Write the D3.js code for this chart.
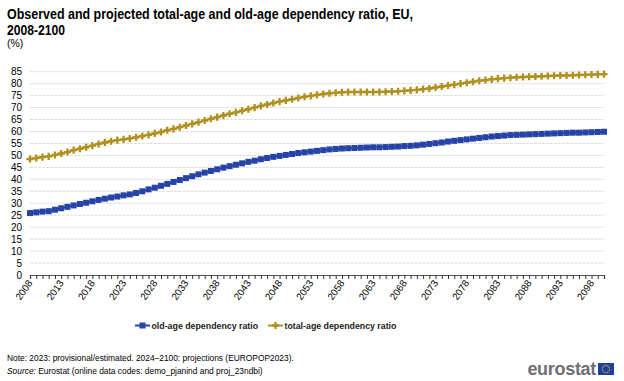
<!DOCTYPE html>
<html><head><meta charset="utf-8">
<script src="https://cdn.jsdelivr.net/npm/d3@7"></script>
<style>
html,body{margin:0;padding:0;background:#fff;}
svg{display:block;font-family:"Liberation Sans",Arial,sans-serif;}
</style></head>
<body>
<script>
const years = d3.range(2008, 2101);
const oldAge = [25.9,26.2,26.5,26.7,27.3,27.9,28.5,29.1,29.7,30.2,30.8,31.4,31.9,32.4,32.8,33.3,33.7,34.3,35.0,35.8,36.5,37.3,38.1,38.9,39.7,40.5,41.3,42.1,42.8,43.5,44.2,44.9,45.5,46.1,46.7,47.3,47.8,48.4,48.9,49.4,49.8,50.2,50.6,51.0,51.3,51.6,51.9,52.2,52.5,52.7,52.9,53.0,53.1,53.2,53.3,53.4,53.4,53.5,53.6,53.7,53.9,54.0,54.2,54.5,54.8,55.1,55.4,55.8,56.1,56.4,56.7,57.0,57.3,57.6,57.9,58.1,58.3,58.5,58.6,58.7,58.8,58.9,59.0,59.1,59.2,59.3,59.4,59.5,59.5,59.6,59.7,59.8,59.9];
const totalAge = [48.5,48.9,49.3,49.6,50.2,50.8,51.4,52.2,52.8,53.4,54.1,54.8,55.4,55.9,56.4,56.7,57.1,57.6,58.1,58.6,59.2,59.8,60.5,61.1,61.8,62.5,63.2,63.9,64.6,65.3,66.0,66.7,67.4,68.0,68.7,69.3,70.0,70.7,71.3,71.9,72.5,73.0,73.5,74.0,74.5,74.9,75.3,75.7,76.0,76.2,76.4,76.5,76.5,76.5,76.5,76.5,76.5,76.6,76.7,76.8,77.0,77.2,77.4,77.7,78.0,78.4,78.8,79.2,79.6,80.0,80.4,80.8,81.2,81.5,81.8,82.1,82.3,82.5,82.7,82.8,82.9,83.0,83.1,83.2,83.3,83.4,83.4,83.5,83.6,83.7,83.8,83.9,84.0];
const yTicks = d3.range(0, 90, 5);
const xLabelYears = d3.range(2008, 2100, 5);
const seriesNames = ["old-age dependency ratio", "total-age dependency ratio"];
const colors = ["#2644A7", "#B09120"];

const W = 624, H = 381;
const svg = d3.select("body").append("svg").attr("width", W).attr("height", H);

// Title
const title = svg.append("text").attr("font-weight", "bold").attr("font-size", 14).attr("fill", "#000");
title.append("tspan").attr("x", 7).attr("y", 19).attr("textLength", 406).attr("lengthAdjust", "spacingAndGlyphs")
  .text("Observed and projected total-age and old-age dependency ratio, EU,");
title.append("tspan").attr("x", 7).attr("y", 35).attr("textLength", 58).attr("lengthAdjust", "spacingAndGlyphs").text("2008-2100");
svg.append("text").attr("x", 7).attr("y", 47).attr("font-size", 10.5).attr("fill", "#000").text("(%)");

const x = d3.scaleLinear().domain([2008, 2100]).range([30, 604]);
const y = d3.scaleLinear().domain([0, 85]).range([275, 71.7]);

// Grid
svg.append("g").selectAll("line").data(yTicks.filter(d => d > 0)).join("line")
  .attr("x1", 30).attr("x2", 604)
  .attr("y1", d => y(d)).attr("y2", d => y(d))
  .attr("stroke", "#dcdcdc").attr("stroke-width", 1).attr("stroke-dasharray", "3,1");

// Y axis labels
svg.append("g").selectAll("text").data(yTicks).join("text")
  .attr("x", 22).attr("y", d => y(d) + 3.5).attr("text-anchor", "end")
  .attr("font-size", 10).attr("fill", "#000").text(d => d);

// X axis
const xAxis = d3.axisBottom(x).tickValues(years).tickSize(4).tickFormat("");
const gx = svg.append("g").attr("transform", "translate(0,275)").call(xAxis);
gx.select(".domain").attr("stroke", "#555").attr("stroke-width", 1.2);
gx.selectAll(".tick line").attr("stroke", "#333");
svg.append("g").selectAll("text").data(xLabelYears).join("text")
  .attr("transform", d => `translate(${x(d) + 3},${283}) rotate(-55)`)
  .attr("text-anchor", "end").attr("font-size", 9.8).attr("fill", "#000").text(d => d);

// Lines
const series = [oldAge, totalAge];
const line = d3.line().x((d, i) => x(years[i])).y(d => y(d));
series.forEach((s, k) => {
  svg.append("path").datum(s).attr("d", line).attr("fill", "none")
    .attr("stroke", colors[k]).attr("stroke-width", 2);
});
// markers
svg.append("g").selectAll("rect").data(oldAge).join("rect")
  .attr("x", (d, i) => x(years[i]) - 3).attr("y", d => y(d) - 3)
  .attr("width", 6).attr("height", 6).attr("fill", colors[0]);
const cross = d3.symbol().type(d3.symbolCross).size(28);
svg.append("g").selectAll("path").data(totalAge).join("path")
  .attr("transform", (d, i) => `translate(${x(years[i])},${y(d)})`)
  .attr("d", cross).attr("fill", colors[1]);

// Legend
const legend = [{x: 135, name: seriesNames[0], c: colors[0], m: "sq"}, {x: 268, name: seriesNames[1], c: colors[1], m: "cr"}];
legend.forEach(l => {
  svg.append("line").attr("x1", l.x).attr("x2", l.x + 15).attr("y1", 325.5).attr("y2", 325.5).attr("stroke", l.c).attr("stroke-width", 2);
  if (l.m === "sq") svg.append("rect").attr("x", l.x + 4.5).attr("y", 322.5).attr("width", 6).attr("height", 6).attr("fill", l.c);
  else svg.append("path").attr("transform", `translate(${l.x + 7.5},325.5)`).attr("d", cross).attr("fill", l.c);
  svg.append("text").attr("x", l.x + 16.5).attr("y", 329).attr("font-size", 8.8).attr("font-weight", "bold").attr("fill", "#222").text(l.name);
});

// Footer
svg.append("text").attr("x", 7).attr("y", 361).attr("font-size", 8.4).attr("fill", "#000")
  .text("Note: 2023: provisional/estimated. 2024\u20132100: projections (EUROPOP2023).");
const src = svg.append("text").attr("x", 7).attr("y", 374).attr("font-size", 8.4).attr("fill", "#000");
src.append("tspan").attr("font-style", "italic").text("Source:");
src.append("tspan").text(" Eurostat (online data codes: demo_pjanind and proj_23ndbi)");

// Logo
svg.append("text").attr("x", 596).attr("y", 375).attr("text-anchor", "end").attr("font-size", 18)
  .attr("font-weight", "bold").attr("fill", "#6e6e73").attr("letter-spacing", -0.3).text("eurostat");
svg.append("rect").attr("x", 598).attr("y", 363).attr("width", 16).attr("height", 12).attr("fill", "#1f3fa0");
const stars = d3.range(12).map(i => [606 + 3.6 * Math.cos(i * Math.PI / 6), 369 + 3.6 * Math.sin(i * Math.PI / 6)]);
svg.append("g").selectAll("circle").data(stars).join("circle")
  .attr("cx", d => d[0]).attr("cy", d => d[1]).attr("r", 0.6).attr("fill", "#ffd500");
</script>
</body></html>
